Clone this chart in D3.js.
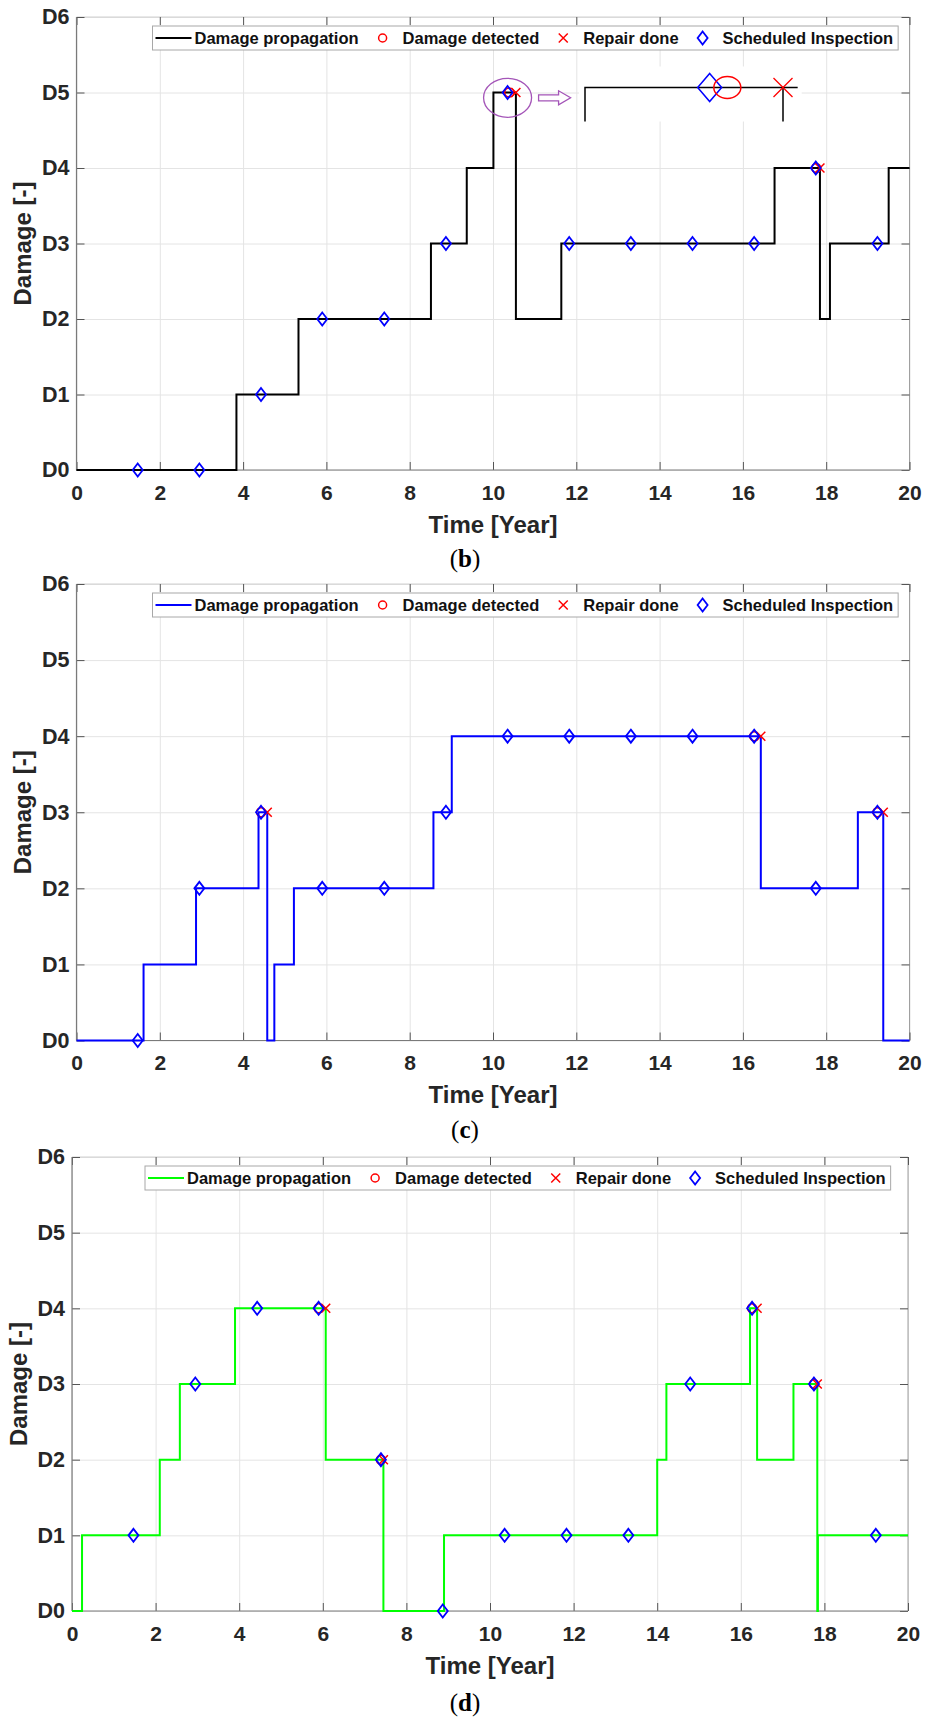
<!DOCTYPE html>
<html>
<head>
<meta charset="utf-8">
<script src="https://cdn.jsdelivr.net/npm/d3@7"></script>
<style>
  body { margin: 0; background: #fff; }
  svg { display: block; }
  text { font-family: "Liberation Sans", Arial, sans-serif; }
</style>
</head>
<body>
<script>
// tick labels
var xTicks = [0, 2, 4, 6, 8, 10, 12, 14, 16, 18, 20];
var yTickLabels = ["D0", "D1", "D2", "D3", "D4", "D5", "D6"];
var legendLabels = ["Damage propagation", "Damage detected", "Repair done", "Scheduled Inspection"];
var captions = ["b", "c", "d"];

// scheduled inspections (same times in every panel)
var inspTimes = [1.47, 2.95, 4.43, 5.9, 7.39, 8.87, 10.35, 11.83, 13.31, 14.79, 16.27, 17.75, 19.23];

// panel (b)
var bTimes  = [0, 3.84, 5.33, 8.51, 9.37, 10.01, 10.55, 11.64, 16.76, 17.85, 18.09, 19.5, 20];
var bLevels = [0, 1, 2, 3, 4, 5, 2, 3, 4, 2, 3, 4, 4];
var bInsp = [0, 0, 1, 2, 2, 3, 5, 3, 3, 3, 3, 4, 3];
var bDetTimes = [10.39, 17.76], bDetLevels = [5, 4];
var bRepTimes = [10.55, 17.85], bRepLevels = [5, 4];

// panel (c)
var cTimes  = [0, 1.61, 2.87, 4.37, 4.58, 4.75, 5.22, 8.57, 9.01, 16.43, 18.76, 19.37, 20];
var cLevels = [0, 1, 2, 3, 0, 1, 2, 3, 4, 2, 3, 0, 0];
var cInsp = [0, 2, 3, 2, 2, 3, 4, 4, 4, 4, 4, 2, 3];
var cDetTimes = [4.43, 16.27, 19.23], cDetLevels = [3, 4, 3];
var cRepTimes = [4.58, 16.43, 19.37], cRepLevels = [3, 4, 3];

// panel (d)
var dTimes  = [0, 0.24, 2.1, 2.58, 3.9, 6.07, 7.45, 8.9, 14.0, 14.22, 16.22, 16.39, 17.26, 17.83, 17.845, 20];
var dLevels = [0, 1, 2, 3, 4, 2, 0, 1, 2, 3, 4, 2, 3, 0, 1, 1];
var dInsp = [1, 3, 4, 4, 2, 0, 1, 1, 1, 3, 4, 3, 1];
var dDetTimes = [5.9, 7.39, 16.27, 17.75], dDetLevels = [4, 2, 4, 3];
var dRepTimes = [6.07, 7.45, 16.39, 17.83], dRepLevels = [4, 2, 4, 3];

var panels = [
  {left: 76.5, right: 909.5, top: 17, bottom: 470, capGap: 97, color: "#000000",
   times: bTimes, levels: bLevels, insp: bInsp,
   det: d3.zip(bDetTimes, bDetLevels), rep: d3.zip(bRepTimes, bRepLevels), inset: true},
  {left: 76.5, right: 909.5, top: 584, bottom: 1040.5, capGap: 97, color: "#0000ff",
   times: cTimes, levels: cLevels, insp: cInsp,
   det: d3.zip(cDetTimes, cDetLevels), rep: d3.zip(cRepTimes, cRepLevels)},
  {left: 72, right: 908, top: 1157, bottom: 1611, capGap: 100, color: "#00ff00",
   times: dTimes, levels: dLevels, insp: dInsp,
   det: d3.zip(dDetTimes, dDetLevels), rep: d3.zip(dRepTimes, dRepLevels)}
];

var svg = d3.select("body").append("svg")
    .attr("width", 928)
    .attr("height", 1720);

svg.append("rect").attr("width", 928).attr("height", 1720).attr("fill", "#fff");

var diamond = function (cx, cy, hw, hh) {
  return "M" + cx + "," + (cy - hh) + "L" + (cx + hw) + "," + cy + "L" + cx + "," + (cy + hh) + "L" + (cx - hw) + "," + cy + "Z";
};
var cross = function (cx, cy, s) {
  return "M" + (cx - s) + "," + (cy - s) + "L" + (cx + s) + "," + (cy + s) + "M" + (cx - s) + "," + (cy + s) + "L" + (cx + s) + "," + (cy - s);
};

panels.forEach(function (p, pi) {
  var width = p.right - p.left,
      height = p.bottom - p.top;

  var x = d3.scaleLinear().domain([0, 20]).range([0, width]);
  var y = d3.scaleLinear().domain([0, 6]).range([height, 0]);

  var g = svg.append("g").attr("transform", "translate(" + p.left + "," + p.top + ")");

  // grid
  g.append("g")
    .attr("transform", "translate(0," + height + ")")
    .call(d3.axisBottom(x).tickValues(xTicks).tickSize(-height).tickFormat(""))
    .call(function (a) { a.select(".domain").remove(); })
    .selectAll("line").attr("stroke", "#e4e4e4");
  g.append("g")
    .call(d3.axisLeft(y).ticks(6).tickSize(-width).tickFormat(""))
    .call(function (a) { a.select(".domain").remove(); })
    .selectAll("line").attr("stroke", "#e4e4e4");

  // box
  g.append("line").attr("x1", 0).attr("x2", width).attr("y1", 0).attr("y2", 0).attr("stroke", "#d0d0d0");
  g.append("line").attr("x1", width).attr("x2", width).attr("y1", 0).attr("y2", height).attr("stroke", "#a0a0a0");

  // inward ticks
  var tickAxes = [
    [d3.axisBottom(x).tickValues(xTicks), "translate(0," + height + ")"],
    [d3.axisTop(x).tickValues(xTicks), "translate(0,0)"],
    [d3.axisLeft(y).ticks(6), "translate(0,0)"],
    [d3.axisRight(y).ticks(6), "translate(" + width + ",0)"]
  ];
  tickAxes.forEach(function (t) {
    g.append("g").attr("transform", t[1])
      .call(t[0].tickSize(-8).tickSizeOuter(0).tickFormat(""))
      .call(function (a) { a.select(".domain").remove(); })
      .selectAll("line").attr("stroke", "#555");
  });

  g.append("line").attr("x1", 0).attr("x2", width).attr("y1", height).attr("y2", height).attr("stroke", "#7a7a7a").attr("stroke-width", 1.2);
  g.append("line").attr("x1", 0).attr("x2", 0).attr("y1", 0).attr("y2", height).attr("stroke", "#7a7a7a").attr("stroke-width", 1.2);

  // tick labels
  var xa = g.append("g")
    .attr("transform", "translate(0," + height + ")")
    .call(d3.axisBottom(x).tickValues(xTicks).tickSize(0).tickPadding(15).tickFormat(d3.format("d")));
  xa.select(".domain").remove();
  xa.selectAll("text").attr("font-size", 21).attr("font-weight", "bold").attr("fill", "#262626")
    .attr("font-family", "Liberation Sans, Arial, sans-serif");

  var ya = g.append("g")
    .call(d3.axisLeft(y).ticks(6).tickSize(0).tickPadding(7).tickFormat(function (d) { return yTickLabels[d]; }));
  ya.select(".domain").remove();
  ya.selectAll("text").attr("font-size", 21.5).attr("font-weight", "bold").attr("fill", "#262626")
    .attr("font-family", "Liberation Sans, Arial, sans-serif");

  // axis titles
  g.append("text")
    .attr("x", width / 2).attr("y", height + 54.5).attr("dy", "0.35em")
    .attr("text-anchor", "middle").attr("font-size", 24).attr("font-weight", "bold").attr("fill", "#262626")
    .text("Time [Year]");
  g.append("text")
    .attr("transform", "translate(-53.5," + (height / 2) + ") rotate(-90)")
    .attr("dy", "0.35em")
    .attr("text-anchor", "middle").attr("font-size", 24).attr("font-weight", "bold").attr("fill", "#262626")
    .text("Damage [-]");

  // caption
  var cap = g.append("text")
    .attr("x", 465 - p.left).attr("y", height + p.capGap)
    .attr("text-anchor", "middle").attr("font-size", 25).attr("fill", "#000")
    .style("font-family", "Liberation Serif, Times New Roman, serif");
  cap.append("tspan").text("(");
  cap.append("tspan").attr("font-weight", "bold").text(captions[pi]);
  cap.append("tspan").text(")");

  // damage propagation
  var line = d3.line()
    .x(function (d) { return x(d[0]); })
    .y(function (d) { return y(d[1]); })
    .curve(d3.curveStepAfter);

  g.append("path")
    .datum(d3.zip(p.times, p.levels))
    .attr("fill", "none")
    .attr("stroke", p.color)
    .attr("stroke-width", 2)
    .attr("d", line);

  // damage detected
  g.selectAll(".det").data(p.det).enter().append("circle")
    .attr("cx", function (d) { return x(d[0]); })
    .attr("cy", function (d) { return y(d[1]); })
    .attr("r", 4.5).attr("fill", "none").attr("stroke", "#ff0000").attr("stroke-width", 1.5);

  // repair done
  g.selectAll(".rep").data(p.rep).enter().append("path")
    .attr("d", function (d) { return cross(x(d[0]), y(d[1]), 4.5); })
    .attr("fill", "none").attr("stroke", "#ff0000").attr("stroke-width", 1.5);

  // scheduled inspection
  g.selectAll(".insp").data(d3.zip(inspTimes, p.insp)).enter().append("path")
    .attr("d", function (d) { return diamond(x(d[0]), y(d[1]), 5, 6.5); })
    .attr("fill", "none").attr("stroke", "#0000ff").attr("stroke-width", 1.8);

  // zoomed detail in panel (b)
  if (p.inset) {
    var purple = "#a455b8";
    g.append("ellipse")
      .attr("cx", x(inspTimes[6])).attr("cy", y(4.93))
      .attr("rx", 24).attr("ry", 19.5)
      .attr("fill", "none").attr("stroke", purple).attr("stroke-width", 1.3);

    var ax0 = x(inspTimes[6]) + 31, ay = y(4.93);
    g.append("path")
      .attr("d", "M" + ax0 + "," + (ay - 3) + "h20v-4l12,7l-12,7v-4h-20z")
      .attr("fill", "#fff").attr("stroke", purple).attr("stroke-width", 1.3);

    var xi = d3.scaleLinear().domain([p.times[5], p.times[6]]).range([508.5, 706.5]);
    var yTop = y(5) - 5, yBot = yTop + 34;

    g.append("rect").attr("x", xi(p.times[5]) - 6).attr("y", yTop - 21)
      .attr("width", xi(10.59) - xi(p.times[5]) + 10).attr("height", 55).attr("fill", "#fff");

    g.append("path")
      .attr("d", "M" + xi(p.times[5]) + "," + yBot + "V" + yTop + "H" + xi(10.59) +
                 "M" + xi(p.times[6]) + "," + yTop + "V" + yBot)
      .attr("fill", "none").attr("stroke", "#000").attr("stroke-width", 1.5);
    g.append("path")
      .attr("d", diamond(xi(inspTimes[6]), yTop, 12, 14))
      .attr("fill", "none").attr("stroke", "#0000ff").attr("stroke-width", 1.5);
    g.append("ellipse")
      .attr("cx", xi(p.det[0][0]) + 3).attr("cy", yTop).attr("rx", 13.5).attr("ry", 11)
      .attr("fill", "none").attr("stroke", "#ff0000").attr("stroke-width", 1.5);
    g.append("path")
      .attr("d", cross(xi(p.rep[0][0]), yTop, 9.5))
      .attr("fill", "none").attr("stroke", "#ff0000").attr("stroke-width", 1.3);
  }

  // legend
  var lg = g.append("g").attr("transform", "translate(" + (p.left < 75 ? 73 : 76) + ",9)");
  var box = lg.append("rect").attr("height", 24).attr("fill", "#fff").attr("stroke", "#a8a8a8");
  var cy = 12, cursor = 3;
  legendLabels.forEach(function (lab, i) {
    if (i === 0) {
      lg.append("line").attr("x1", cursor).attr("x2", cursor + 36).attr("y1", cy).attr("y2", cy)
        .attr("stroke", p.color).attr("stroke-width", 2);
      cursor += 39;
    } else {
      var sx = cursor + 24;
      if (i === 1) {
        lg.append("circle").attr("cx", sx).attr("cy", cy).attr("r", 4)
          .attr("fill", "none").attr("stroke", "#ff0000").attr("stroke-width", 1.5);
      } else if (i === 2) {
        lg.append("path").attr("d", cross(sx, cy, 4.5))
          .attr("fill", "none").attr("stroke", "#ff0000").attr("stroke-width", 1.5);
      } else {
        lg.append("path").attr("d", diamond(sx, cy, 5, 6.5))
          .attr("fill", "none").attr("stroke", "#0000ff").attr("stroke-width", 1.8);
      }
      cursor = sx + 20;
    }
    var t = lg.append("text").attr("x", cursor).attr("y", cy).attr("dy", "0.36em")
      .attr("font-size", 16.5).attr("font-weight", "bold").attr("fill", "#111").text(lab);
    cursor += t.node().getComputedTextLength();
  });
  box.attr("width", cursor + 5);
});
</script>
</body>
</html>
